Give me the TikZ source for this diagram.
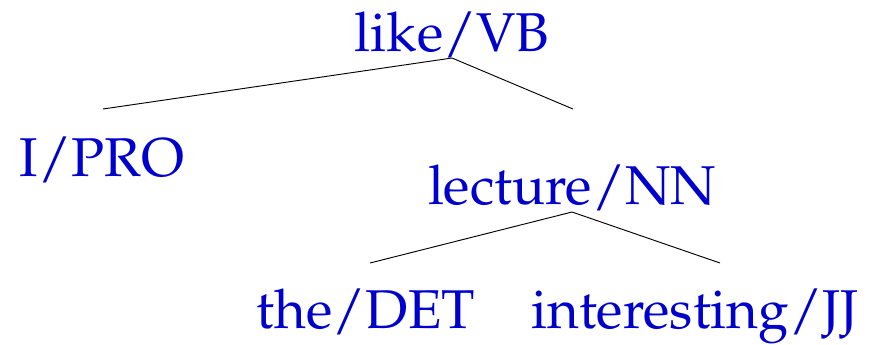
\documentclass[tikz,border=0pt]{standalone}
\usepackage[T1]{fontenc}
\renewcommand{\rmdefault}{ppl}
\usepackage{tikz}
\definecolor{wordblue}{RGB}{0,0,205}
\tikzset{word/.style={anchor=base,inner sep=0pt,text=wordblue,font=\fontsize{41}{49}\selectfont}}

\begin{document}
\begin{tikzpicture}[x=0.75pt,y=-0.75pt]
	\useasboundingbox (0,0) rectangle (889,344);
	\node[word] (like) at (452,51) {like/VB}; %root
	\node[word] (pro) at (102,176) {I/PRO};
	\node[word] (lecture) at (572,204) {lecture/NN};
	\node[word] (det) at (366,328) {the/DET};
	\node[word] (jj) at (695,328) {interesting/JJ};
	\coordinate (likeh) at (452,58); %Kopf-Enden
	\coordinate (lectureh) at (572,212);
	\coordinate (pro-e) at (103,109); %Kind-Enden
	\coordinate (lecture-e) at (573,109);
	\coordinate (det-e) at (370,263);
	\coordinate (jj-e) at (720,263);
	\draw[line width=0.7pt] (pro-e) -- (likeh) -- (lecture-e);
	\draw[line width=0.7pt] (det-e) -- (lectureh) -- (jj-e);
\end{tikzpicture}
\end{document}
